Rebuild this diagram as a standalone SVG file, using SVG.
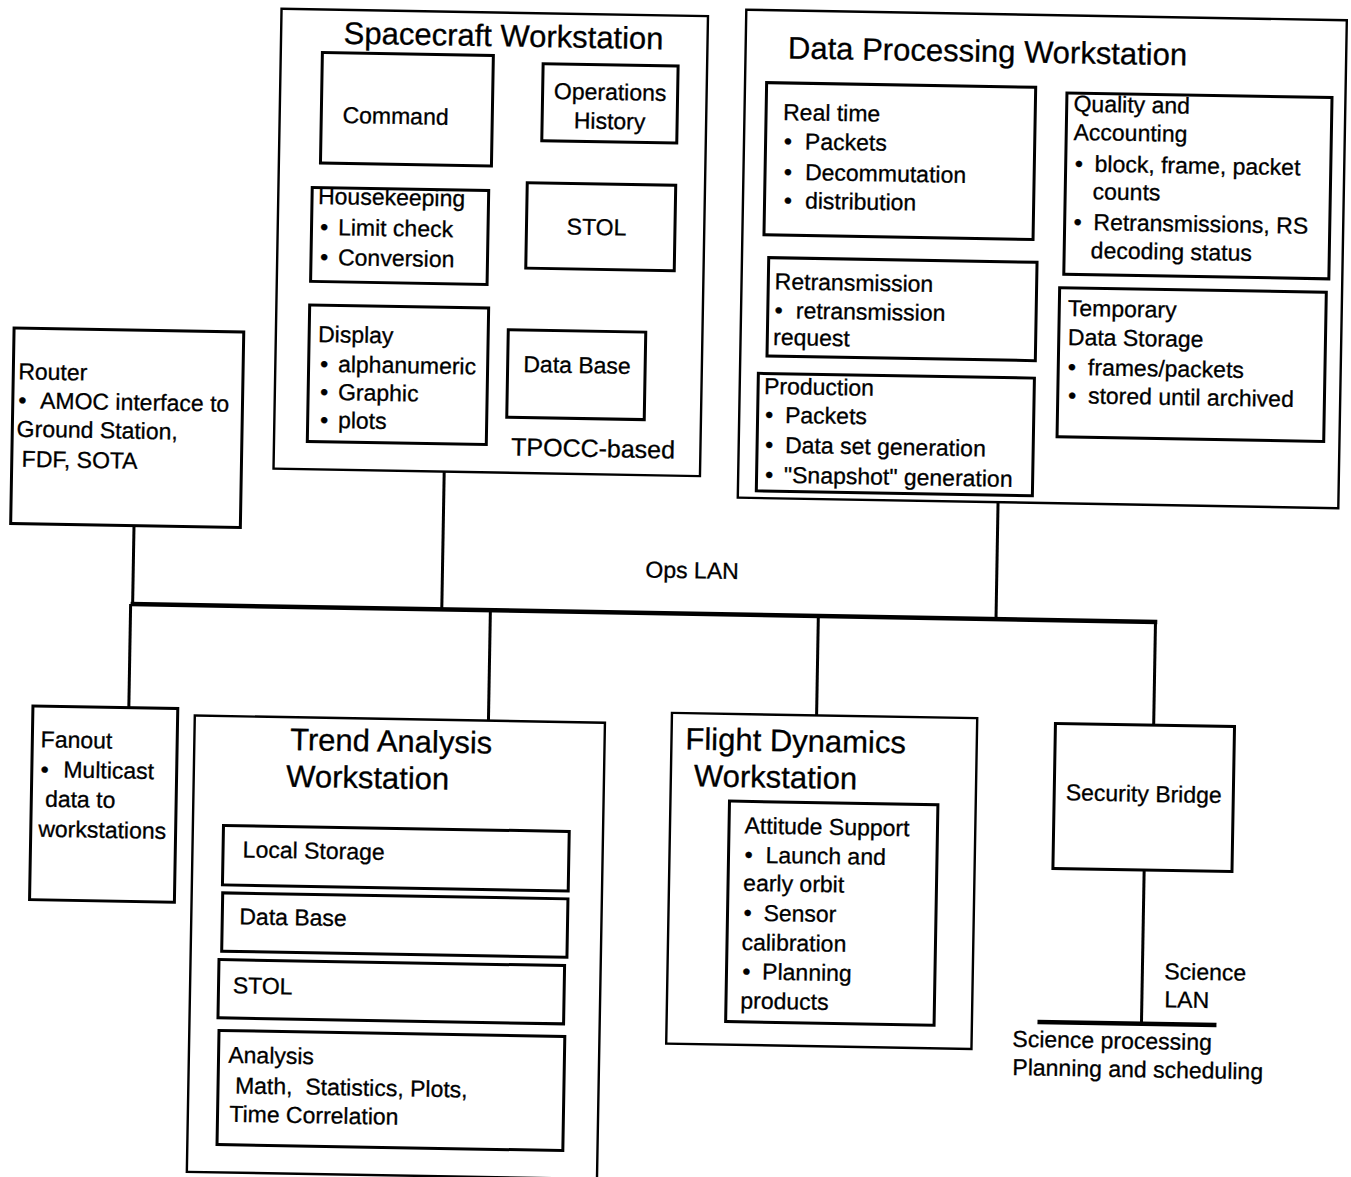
<svg xmlns="http://www.w3.org/2000/svg" width="1351" height="1177" viewBox="0 0 1351 1177">
<style>
.o{fill:#fff;stroke:#000;stroke-width:2.4}
.i{fill:#fff;stroke:#000;stroke-width:3}
.c{fill:none;stroke:#000;stroke-width:3}
.lan{fill:none;stroke:#000;stroke-width:4.5}
text{font-family:"Liberation Sans",Arial,Helvetica,sans-serif;font-size:23px;fill:#000;stroke:#000;stroke-width:0.3;white-space:pre}
.t{font-size:31px}
.m{text-anchor:middle}
</style>
<rect width="1351" height="1177" fill="#fff"/>
<g transform="rotate(1 675 588)">
<g id="connectors">
<line class="c" x1="133" y1="535" x2="133" y2="613.5"/>
<line class="c" x1="131" y1="613.5" x2="131" y2="717"/>
<line class="c" x1="442.2" y1="475.7" x2="442.2" y2="613.5"/>
<line class="c" x1="996.5" y1="496.6" x2="996.5" y2="613.5"/>
<line class="c" x1="490.8" y1="613.5" x2="490.8" y2="724"/>
<line class="c" x1="818.8" y1="613.5" x2="818.8" y2="713"/>
<line class="lan" x1="131" y1="613.5" x2="1157.8" y2="613.5"/>
<line class="c" x1="1156" y1="613.5" x2="1156" y2="716.8"/>
<line class="c" x1="1149" y1="861.8" x2="1149" y2="1015.5"/>
<line class="lan" x1="1045" y1="1015.5" x2="1224" y2="1015.5"/>
<text class="m" x="691.8" y="578">Ops LAN</text>
<text x="1171" y="970.7">Science</text>
<text x="1171.5" y="998.7">LAN</text>
<text x="1020.3" y="1040.8">Science processing</text>
<text x="1020.8" y="1069.1">Planning and scheduling</text>
</g>

<g id="spacecraft-workstation">
<rect class="o" x="271.5" y="15.7" width="426.5" height="460"/>
<text class="t m" x="494" y="49.5">Spacecraft Workstation</text>
<g id="sc-command"><rect class="i" x="313.1" y="58.7" width="171" height="110.5"/><text class="m" x="387.4" y="128.9">Command</text></g>
<g id="sc-ops-history"><rect class="i" x="534" y="66.1" width="135" height="77"/><text class="m" x="601.5" y="101.1">Operations</text><text class="m" x="601.5" y="130.2">History</text></g>
<g id="sc-housekeeping"><rect class="i" x="305.3" y="193.8" width="176.5" height="94"/>
<text x="311.3" y="210.2">Housekeeping</text>
<text x="313.8" y="241.1">•<tspan x="331.8">Limit check</tspan></text>
<text x="314.4" y="271.1">•<tspan x="332.4">Conversion</tspan></text></g>
<g id="sc-stol"><rect class="i" x="520.2" y="185.3" width="148.5" height="85.5"/><text class="m" x="590.3" y="236.4">STOL</text></g>
<g id="sc-display"><rect class="i" x="304.8" y="311.35" width="179" height="136.5"/>
<text x="313.7" y="348.3">Display</text>
<text x="316.2" y="378">•<tspan x="334.2">alphanumeric</tspan></text>
<text x="316.7" y="406">•<tspan x="334.7">Graphic</tspan></text>
<text x="317.2" y="434">•<tspan x="335.2">plots</tspan></text></g>
<g id="sc-database"><rect class="i" x="503.8" y="332.7" width="137.5" height="87.5"/><text class="m" x="573.2" y="374.7">Data Base</text></g>
<text class="m" x="590.7" y="458.4" style="font-size:25px">TPOCC-based</text>
</g>

<g id="data-processing-workstation">
<rect class="o" x="736.2" y="8.6" width="600.6" height="488"/>
<text class="t" x="778.6" y="56.5">Data Processing Workstation</text>
<g id="dp-realtime"><rect class="i" x="757.8" y="81.1" width="269.1" height="152.2"/>
<text x="774.8" y="118.1">Real time</text>
<text x="776.1" y="147.2">•<tspan x="797.2">Packets</tspan></text>
<text x="776.7" y="177.9">•<tspan x="797.8">Decommutation</tspan></text>
<text x="777.2" y="206.4">•<tspan x="798.3">distribution</tspan></text></g>
<g id="dp-quality"><rect class="i" x="1058.25" y="86.2" width="265.1" height="181.3"/>
<text x="1065.1" y="104.7">Quality and</text>
<text x="1065.6" y="133">Accounting</text>
<text x="1067.3" y="164.5">•<tspan x="1087.2">block, frame, packet</tspan></text>
<text x="1085.7" y="192">counts</text>
<text x="1067.1" y="222.8">•<tspan x="1087">Retransmissions, RS</tspan></text>
<text x="1084.8" y="251">decoding status</text></g>
<g id="dp-retransmission"><rect class="i" x="762.95" y="256.05" width="268.35" height="98.35"/>
<text x="769.4" y="287.6">Retransmission</text>
<text x="769.9" y="316.4">•<tspan x="791">retransmission</tspan></text>
<text x="768.8" y="343.3">request</text></g>
<g id="dp-production"><rect class="i" x="754.6" y="371.9" width="276.1" height="117.55"/>
<text x="760.5" y="392.4">Production</text>
<text x="762.1" y="421">•<tspan x="782.1">Packets</tspan></text>
<text x="762.6" y="451">•<tspan x="782.6">Data set generation</tspan></text>
<text x="763.2" y="481">•<tspan x="782">"Snapshot" generation</tspan></text></g>
<g id="dp-temporary-storage"><rect class="i" x="1054.35" y="281" width="266.7" height="149.2"/>
<text x="1063" y="309.1">Temporary</text>
<text x="1063.5" y="338.1">Data Storage</text>
<text x="1064.1" y="368">•<tspan x="1084.1">frames/packets</tspan></text>
<text x="1064.6" y="396.3">•<tspan x="1084.6">stored until archived</tspan></text></g>
</g>

<g id="router">
<rect class="i" x="9.65" y="339.6" width="229.7" height="195.5"/>
<text x="14.65" y="390.8">Router</text>
<text x="15.2" y="419.6">•<tspan x="36.9">AMOC interface to</tspan></text>
<text x="14.05" y="448.2">Ground Station,</text>
<text x="19.6" y="478.1">FDF, SOTA</text>
</g>

<g id="fanout">
<rect class="i" x="35.1" y="717.15" width="144.85" height="193.7"/>
<text x="43.5" y="758.4">Fanout</text>
<text x="44" y="788.2">•<tspan x="66.6">Multicast</tspan></text>
<text x="48.8" y="817.7">data to</text>
<text x="42.65" y="847.8">workstations</text>
</g>

<g id="trend-analysis-workstation">
<rect class="o" x="197.1" y="723.9" width="410.2" height="456.35"/>
<text class="t" x="292.8" y="756.7">Trend Analysis</text>
<text class="t" x="289.5" y="793.5">Workstation</text>
<g id="ta-local-storage"><rect class="i" x="227.7" y="833.25" width="345.8" height="59.5"/><text x="247.4" y="864.9">Local Storage</text></g>
<g id="ta-database"><rect class="i" x="228.1" y="900.7" width="345.3" height="58.35"/><text x="245.2" y="931.9">Data Base</text></g>
<g id="ta-stol"><rect class="i" x="225.55" y="967.45" width="345.65" height="58.3"/><text x="239.8" y="1001">STOL</text></g>
<g id="ta-analysis"><rect class="i" x="226.8" y="1038.3" width="345.85" height="114.15"/>
<text x="236.6" y="1070.5">Analysis</text>
<text x="243.8" y="1101" xml:space="preserve">Math,  Statistics, Plots,</text>
<text x="238.6" y="1129.5">Time Correlation</text></g>
</g>

<g id="flight-dynamics-workstation">
<rect class="o" x="674.15" y="712.9" width="305.3" height="330.8"/>
<text class="t" x="688.1" y="749.3">Flight Dynamics</text>
<text class="t" x="697.25" y="786">Workstation</text>
<g id="fd-attitude"><rect class="i" x="733.2" y="800.1" width="208.45" height="220.5"/>
<text x="748.7" y="832.1">Attitude Support</text>
<text x="749.2" y="861.3">•<tspan x="770.3">Launch and</tspan></text>
<text x="748.4" y="889.5">early orbit</text>
<text x="749.3" y="919.3">•<tspan x="769.2">Sensor</tspan></text>
<text x="747.7" y="948.8">calibration</text>
<text x="749.15" y="978">•<tspan x="768.95">Planning</tspan></text>
<text x="747.6" y="1007.2">products</text></g>
</g>

<g id="security-bridge">
<rect class="i" x="1057.75" y="716.8" width="179.1" height="145"/>
<text class="m" x="1147.3" y="793.5">Security Bridge</text>
</g>
</g>
</svg>
